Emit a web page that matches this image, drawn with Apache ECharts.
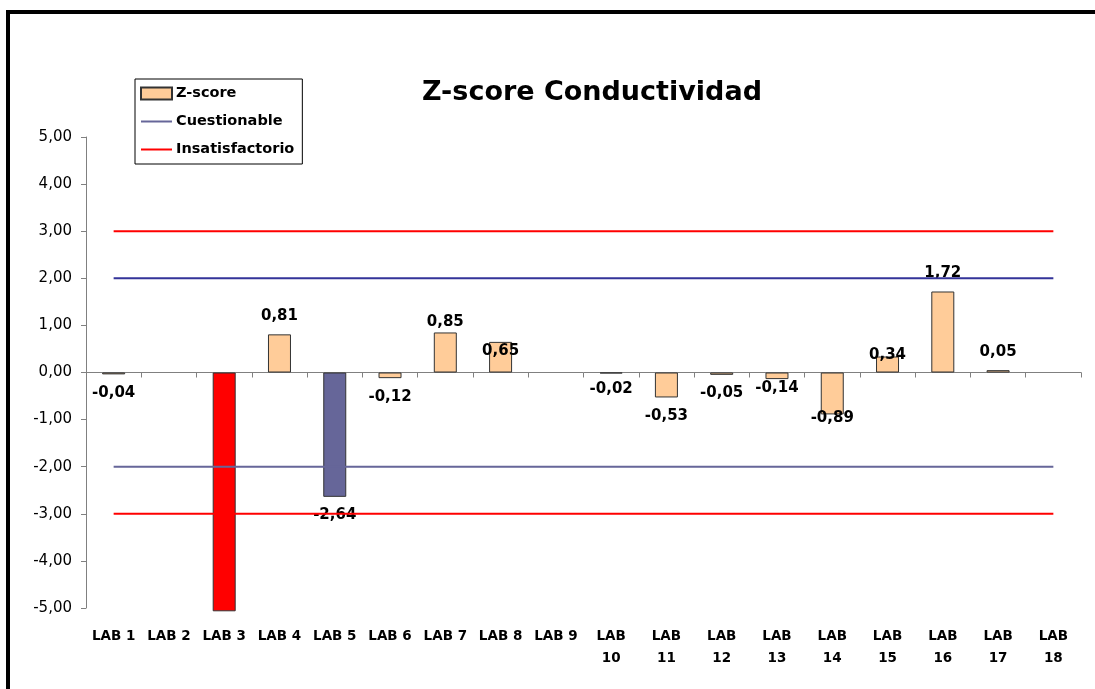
<!DOCTYPE html>
<html>
<head>
<meta charset="utf-8">
<style>
  html, body { margin: 0; padding: 0; background: #ffffff; }
  #chart { width: 1095px; height: 689px; }
</style>
<script src="https://cdn.jsdelivr.net/npm/echarts@6/dist/echarts.min.js"></script>
</head>
<body>
<div id="chart"></div>
<script>
// ---------- data ----------
const categories = ['LAB 1','LAB 2','LAB 3','LAB 4','LAB 5','LAB 6','LAB 7','LAB 8','LAB 9',
                    'LAB 10','LAB 11','LAB 12','LAB 13','LAB 14','LAB 15','LAB 16','LAB 17','LAB 18'];
const zScore = [-0.04, null, -5.07, 0.81, -2.64, -0.12, 0.85, 0.65, null,
                -0.02, -0.53, -0.05, -0.14, -0.89, 0.34, 1.72, 0.05, null];
const cuestionableHigh = [2,2,2,2,2,2,2,2,2,2,2,2,2,2,2,2,2,2];
const cuestionableLow  = [-2,-2,-2,-2,-2,-2,-2,-2,-2,-2,-2,-2,-2,-2,-2,-2,-2,-2];
const insatisfHigh = [3,3,3,3,3,3,3,3,3,3,3,3,3,3,3,3,3,3];
const insatisfLow  = [-3,-3,-3,-3,-3,-3,-3,-3,-3,-3,-3,-3,-3,-3,-3,-3,-3,-3];
const yTicks = { min: -5, max: 5, interval: 1 };
const hiddenLabels = [2];           // LAB 3 label not shown in the reference

// ---------- styling ----------
const FONT = '"DejaVu Sans", Verdana, sans-serif';
const fmt = v => v.toFixed(2).replace('.', ',');
const labelNudge = { 6: [0, 8], 7: [0, 28], 9: [0, -3], 12: [0, -9], 13: [0, -15], 14: [0, 17] };
const hiddenSymbol = { color: 'rgba(0,0,0,0)', borderColor: 'rgba(0,0,0,0)', borderWidth: 0 };

function barColor(v) {
  const a = Math.abs(v);
  if (a >= 3) return '#ff0000';
  if (a >= 2) return '#666699';
  return '#ffcc99';
}

const barData = zScore.map((v, i) => {
  if (v === null) return '-';
  return {
    value: v,
    itemStyle: { color: barColor(v) },
    label: {
      show: hiddenLabels.indexOf(i) < 0,
      position: v < 0 ? 'bottom' : 'top',
      offset: labelNudge[i] || [0, 0]
    }
  };
});

const lineBase = (name, data, color) => ({
  name, type: 'line', data, symbol: 'none', z: 4,
  lineStyle: { color, width: 2 }, itemStyle: { color },
  emphasis: { disabled: true }, silent: true, animation: false
});

const chart = echarts.init(document.getElementById('chart'), null, { renderer: 'canvas' });
chart.setOption({
  animation: false,
  backgroundColor: '#ffffff',
  graphic: [{
    type: 'rect', silent: true, z: 100,
    shape: { x: 8, y: 12, width: 1300, height: 1000 },
    style: { fill: 'none', stroke: '#000000', lineWidth: 4 }
  }],
  title: {
    text: 'Z-score Conductividad',
    left: 417, top: 74,
    textStyle: { fontFamily: FONT, fontWeight: 'bold', fontSize: 27, color: '#000000' }
  },
  legend: {
    left: 135, top: 79,
    orient: 'vertical',
    data: [
      { name: 'Z-score', icon: 'rect' },
      { name: 'Cuestionable', itemStyle: hiddenSymbol },
      { name: 'Insatisfactorio', itemStyle: hiddenSymbol }
    ],
    borderColor: '#000000', borderWidth: 1,
    padding: [7, 8, 7, 5],
    itemGap: 13,
    itemWidth: 31, itemHeight: 12,
    selectedMode: false,
    textStyle: { fontFamily: FONT, fontWeight: 'bold', fontSize: 14.5, color: '#000000', padding: [0, 0, 0, -1] }
  },
  grid: { left: 86, right: 14, top: 137, bottom: 81, containLabel: false },
  xAxis: [{
    type: 'category', data: categories, position: 'bottom',
    axisLine: { onZero: true, lineStyle: { color: '#808080', width: 1 } },
    axisTick: { show: true, length: 5, lineStyle: { color: '#808080' } },
    axisLabel: { show: false },
    splitLine: { show: false }
  }, {
    type: 'category', data: categories, position: 'bottom',
    axisLine: { show: false, onZero: false },
    axisTick: { show: false },
    splitLine: { show: false },
    axisLabel: {
      show: true, interval: 0, margin: 17,
      fontFamily: FONT, fontWeight: 'bold', fontSize: 13.5, color: '#000000', lineHeight: 22,
      formatter: v => (v.length > 5 ? v.replace(' ', '\n') : v)
    }
  }],
  yAxis: {
    type: 'value', min: yTicks.min, max: yTicks.max, interval: yTicks.interval,
    axisLine: { show: true, lineStyle: { color: '#808080', width: 1 } },
    axisTick: { show: true, length: 5, lineStyle: { color: '#808080' } },
    splitLine: { show: false },
    axisLabel: { margin: 14, fontFamily: FONT, fontSize: 15, color: '#000000', formatter: fmt }
  },
  series: [
    {
      name: 'Z-score', type: 'bar', data: barData, xAxisIndex: 0,
      barWidth: 23, clip: false, z: 2,
      itemStyle: { color: '#ffcc99', borderColor: '#333333', borderWidth: 1 },
      label: {
        show: true, distance: 11,
        fontFamily: FONT, fontWeight: 'bold', fontSize: 15, color: '#000000',
        formatter: p => fmt(p.value)
      },
      emphasis: { disabled: true }
    },
    lineBase('Cuestionable', cuestionableLow, '#666699'),
    lineBase('Cuestionable ', cuestionableHigh, '#333399'),
    lineBase('Insatisfactorio', insatisfHigh, '#ff0000'),
    lineBase('Insatisfactorio', insatisfLow, '#ff0000')
  ]
});
</script>
</body>
</html>
